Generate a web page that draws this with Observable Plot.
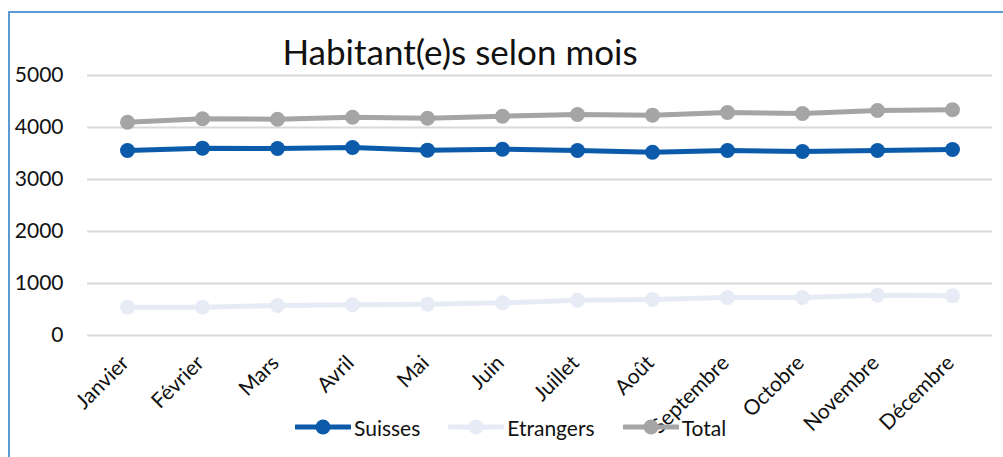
<!DOCTYPE html>
<html>
<head>
<meta charset="utf-8">
<script src="https://cdn.jsdelivr.net/npm/d3@7"></script>
<script src="https://cdn.jsdelivr.net/npm/@observablehq/plot@0.6"></script>
<style>
  html, body { margin: 0; padding: 0; background: #fff; }
  #wrap { position: relative; width: 1003px; height: 457px; overflow: hidden; background: #fff; font-family: Lato, "Open Sans", sans-serif; color: #111; }
  #frame { position: absolute; left: 8px; top: 11px; width: 1100px; height: 600px; border: 2px solid #5B9BD5; box-sizing: border-box; }
  #title { position: absolute; left: 0; width: 920px; top: 31px; text-align: center; font-size: 35px; line-height: 40px; }
  #chart { position: absolute; left: 0; top: 0; }
  #legend { position: absolute; top: 414px; left: 295px; height: 26px; display: flex; align-items: center; font-size: 21px; }
  .item { display: flex; align-items: center; }
  .item svg { display: block; margin-right: 3px; }
</style>
</head>
<body>
<div id="wrap">
  <div id="frame"></div>
  <div id="chart"></div>
  <div id="title">Habitant(e)s selon mois</div>
  <div id="legend"></div>
</div>
<script>
const months = ["Janvier","Février","Mars","Avril","Mai","Juin","Juillet","Août","Septembre","Octobre","Novembre","Décembre"];
const suisses = [3558, 3603, 3596, 3615, 3564, 3583, 3558, 3525, 3558, 3538, 3558, 3577];
const etrangers = [545, 545, 577, 590, 602, 628, 679, 692, 731, 731, 776, 763];
const total = [4100, 4167, 4160, 4198, 4179, 4217, 4250, 4237, 4288, 4269, 4327, 4340];
const seriesNames = ["Suisses", "Etrangers", "Total"];
const yTicks = [0, 1000, 2000, 3000, 4000, 5000];

const seriesValues = [suisses, etrangers, total];
const colors = ["#0B5BAA", "#E7EBF5", "#A5A5A5"];

const rows = seriesNames.flatMap((name, si) =>
  months.map((m, i) => ({ series: name, month: m, value: seriesValues[si][i] }))
);

const plot = Plot.plot({
  width: 1003,
  height: 457,
  marginTop: 75,
  marginBottom: 122,
  marginLeft: 87,
  marginRight: 11,
  style: { fontFamily: "Lato, 'Open Sans', sans-serif", color: "#111", background: "transparent" },
  x: { type: "point", domain: months, padding: 0.5, label: null },
  y: { domain: [0, 5000], label: null },
  color: { domain: seriesNames, range: colors },
  marks: [
    Plot.gridY(yTicks, { stroke: "#D9D9D9", strokeOpacity: 1, strokeWidth: 2 }),
    Plot.axisY(yTicks, { tickSize: 0, tickPadding: 24, fontSize: 21, tickFormat: d3.format("d"), label: null }),
    Plot.axisX({ tickRotate: -45, tickSize: 0, tickPadding: 24, fontSize: 21, dx: -2, label: null }),
    Plot.lineY(rows, { x: "month", y: "value", z: "series", stroke: "series", strokeWidth: 5 }),
    Plot.dot(rows, { x: "month", y: "value", fill: "series", r: 7.5 })
  ]
});
document.getElementById("chart").appendChild(plot);

const legend = document.getElementById("legend");
seriesNames.forEach((name, i) => {
  const item = document.createElement("div");
  item.className = "item";
  item.style.marginRight = i < seriesNames.length - 1 ? "28px" : "0px";
  const ns = "http://www.w3.org/2000/svg";
  const s = document.createElementNS(ns, "svg");
  s.setAttribute("width", 56);
  s.setAttribute("height", 20);
  const l = document.createElementNS(ns, "line");
  l.setAttribute("x1", 1); l.setAttribute("x2", 55); l.setAttribute("y1", 10); l.setAttribute("y2", 10);
  l.setAttribute("stroke", colors[i]); l.setAttribute("stroke-width", 5); l.setAttribute("stroke-linecap", "round");
  const c = document.createElementNS(ns, "circle");
  c.setAttribute("cx", 28); c.setAttribute("cy", 10); c.setAttribute("r", 7.5); c.setAttribute("fill", colors[i]);
  s.appendChild(l); s.appendChild(c);
  const t = document.createElement("span");
  t.textContent = name;
  item.appendChild(s); item.appendChild(t);
  legend.appendChild(item);
});
</script>
</body>
</html>
